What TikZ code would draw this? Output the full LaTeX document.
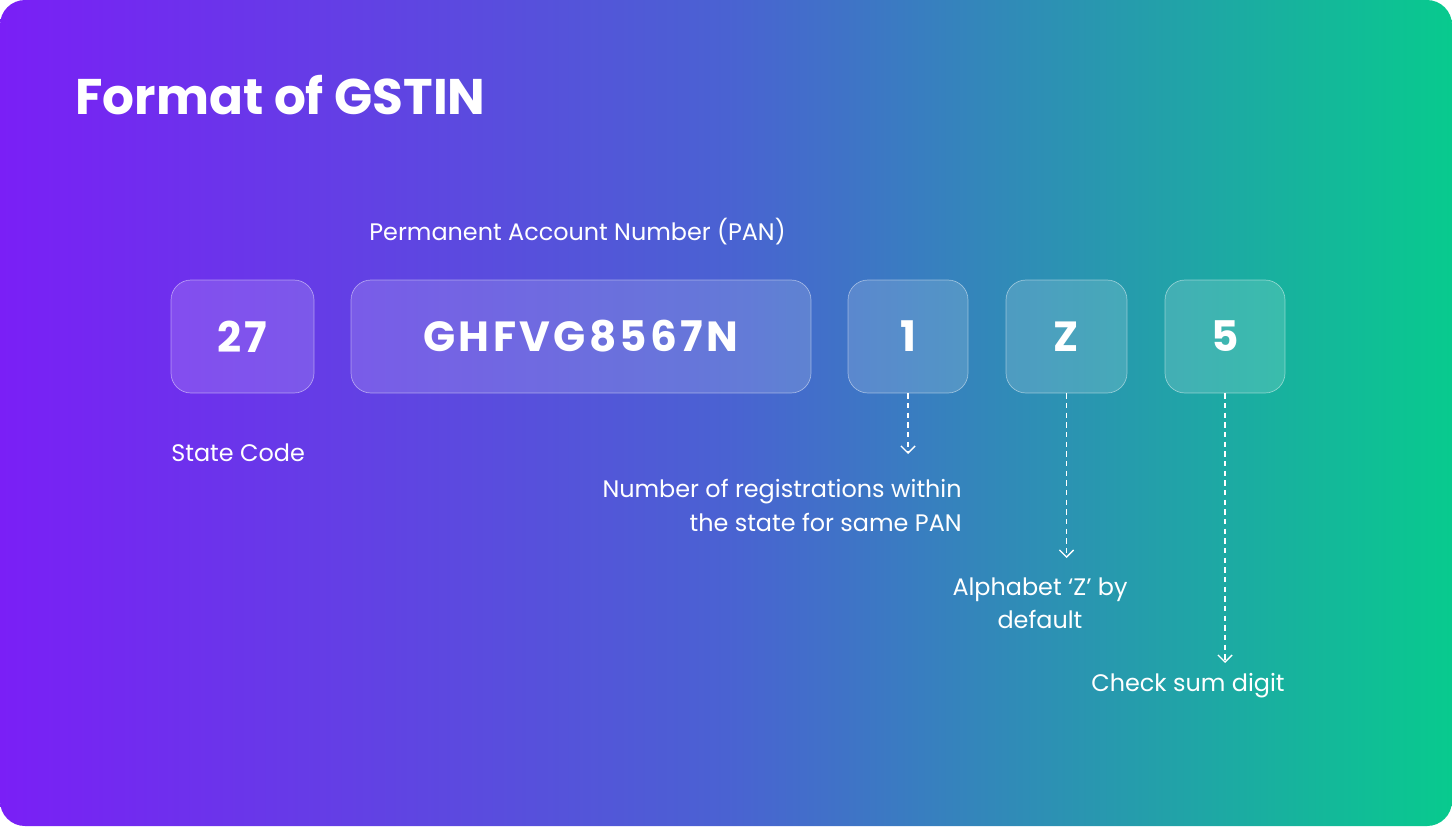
\documentclass[tikz,border=0pt]{standalone}
\usepackage{fontspec}
\setmainfont{Poppins}
\usetikzlibrary{arrows.meta,positioning}
\definecolor{gpurple}{HTML}{7A1FF6}
\definecolor{gblue}{HTML}{4A62D2}
\definecolor{ggreen}{HTML}{08CA8E}
\begin{document}
\begin{tikzpicture}[x=0.02cm,y=-0.02cm,>={Straight Barb[length=4pt,width=8pt]}]
    \tikzset {
      digit/.style={rectangle,rounded corners=0.4cm,draw=white,draw opacity=0.45,fill=white,fill opacity=0.15,text opacity=1,text=white,minimum height=113*0.02cm,font=\fontsize{24}{30}\bfseries\addfontfeatures{LetterSpace=8}},
      caption/.style={text=white,font=\fontsize{13.6}{19.3}\selectfont,inner sep=0pt},
      pointer/.style={->,white,thick,dash pattern=on 3pt off 2.5pt}
    }
    \useasboundingbox (0,0) rectangle (1452,826);
    \shade[rounded corners=0.5cm,left color=gpurple,right color=ggreen,middle color=gblue] (0,0) rectangle (1452,826);
    \node [anchor=base west,text=white,inner sep=0pt,font=\fontsize{28.5}{34}\bfseries] (title) at (75,114) {Format of GSTIN};

    \node [digit,minimum width=143*0.02cm] (sc) at (242.5,336.5) {27};
    \node [digit,minimum width=460*0.02cm] (pan) at (581,336.5) {GHFVG8567N};
    \node [digit,minimum width=120*0.02cm] (reg) at (908,336.5) {1};
    \node [digit,minimum width=121*0.02cm] (z) at (1066.5,336.5) {Z};
    \node [digit,minimum width=120*0.02cm] (chk) at (1225,336.5) {5};

    \node [caption,anchor=base west] (panlbl) at (369,240) {Permanent Account Number (PAN)};
    \node [caption,anchor=base west] (sclbl) at (171,461) {State Code};
    \node [caption,anchor=north east,align=right] (reglbl) at (962,479) {Number of registrations within\\the state for same PAN};
    \node [caption,anchor=north,align=center] (zlbl) at (1040,577) {Alphabet ‘Z’ by\\default};
    \node [caption,anchor=north] (chklbl) at (1188,673) {Check sum digit};

    \coordinate (regend) at (908,454);
    \coordinate (zend) at (1066.5,558);
    \coordinate (chkend) at (1225,663);
    \draw [pointer] (reg.south) -- (regend);
    \draw [pointer] (z.south) -- (zend);
    \draw [pointer] (chk.south) -- (chkend);
\end{tikzpicture}
\end{document}
